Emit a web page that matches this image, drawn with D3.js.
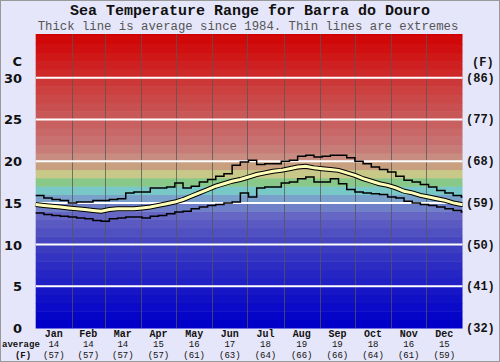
<!DOCTYPE html>
<html>
<head>
<meta charset="utf-8">
<script src="https://cdn.jsdelivr.net/npm/d3@7"></script>
<style>
  html, body { margin: 0; padding: 0; background: #e6e6fa; }
  svg { display: block; }
</style>
</head>
<body>
<div id="chart"></div>
<script>
// month names, days per month, and the monthly summary printed under the axis
const months = ["Jan","Feb","Mar","Apr","May","Jun","Jul","Aug","Sep","Oct","Nov","Dec"];
const monthDays = [31,28,31,30,31,30,31,31,30,31,30,31];
const monthAvgC = ["14","14","14","15","16","17","18","19","19","18","16","15"];
const monthAvgF = ["(57)","(57)","(57)","(57)","(61)","(63)","(64)","(66)","(66)","(64)","(61)","(59)"];

// weekly readings (day 0, 7, 14 ... 364)
const maxTemp = [15.9,15.6,15.4,15.3,15.0,15.1,15.1,15.3,15.3,15.4,15.5,16.2,16.3,16.3,16.8,16.8,16.9,17.4,16.8,17.0,
  17.5,17.8,18.2,18.5,19.5,19.9,20.1,19.6,19.7,19.7,20.0,20.1,20.6,20.7,20.5,20.6,20.7,20.7,20.4,20.0,
  19.7,19.3,19.0,18.7,18.2,17.7,17.5,17.2,16.9,16.5,16.2,15.9,15.7];
const avgTemp = [14.8,14.7,14.6,14.5,14.4,14.3,14.2,14.1,14.0,14.2,14.3,14.3,14.3,14.4,14.5,14.7,14.9,15.1,15.4,15.8,
  16.2,16.6,17.0,17.3,17.6,17.8,18.1,18.4,18.6,18.8,18.9,19.1,19.3,19.4,19.2,19.1,19.0,18.9,18.6,18.3,
  17.9,17.6,17.3,17.1,16.8,16.4,16.2,15.9,15.7,15.5,15.3,15.0,14.8];
const minTemp = [13.8,13.6,13.5,13.4,13.3,13.2,13.1,12.9,12.8,13.1,13.2,13.3,13.3,13.2,13.4,13.5,13.7,13.9,14.0,14.3,
  14.5,14.7,14.8,15.0,15.1,16.2,15.7,16.8,16.9,16.9,17.4,17.5,17.9,18.1,17.5,17.5,17.9,17.3,16.6,16.3,
  16.2,16.1,16.0,15.7,15.6,15.2,15.0,14.8,14.7,14.5,14.3,14.1,13.9];

// axis ticks
const cTicks = [0,5,10,15,20,25,30];
const fTicks = ["(32)","(41)","(50)","(59)","(68)","(77)","(86)"];

// one colour per 1 degree band, from 0 C upward
const bandColors = ["#0000c8","#0505c8","#0a0ac8","#1010c6","#1616c6","#2020c4","#2626c4","#2c2cc2","#3434c2","#3c3cc0",
  "#4646c0","#5050c0","#5a5ac2","#6666c4","#7080c8","#7aa0cc","#78c8c8","#88c888","#c8c888","#c8a080",
  "#c88c80","#c87c78","#c87070","#c86868","#c86060","#c85858","#c85050","#ca4848","#cc4040","#cc3838",
  "#ce2828","#ce2020","#d01818","#d01010","#d00808","#d00000"];

const W = 500, H = 362;
const pLeft = 35.7, pRight = 462.5, pTop = 34, pBottom = 328;

const svg = d3.select("#chart").append("svg")
  .attr("width", W).attr("height", H);

svg.append("rect").attr("x", 0.5).attr("y", 0.5).attr("width", W - 1).attr("height", H - 1)
  .attr("fill", "#e6e6fa").attr("stroke", "#999");

const x = d3.scaleLinear().domain([0, 365]).range([pLeft, pRight]);
const y = d3.scaleLinear().domain([0, 35.25]).range([pBottom, pTop]);

// colour bands
svg.append("g").selectAll("rect")
  .data(bandColors)
  .join("rect")
  .attr("x", pLeft)
  .attr("width", pRight - pLeft)
  .attr("y", (d, i) => Math.max(pTop, y(i + 1)))
  .attr("height", (d, i) => y(i) - Math.max(pTop, y(i + 1)) + 0.5)
  .attr("fill", d => d);

// month boundaries
let cum = [0];
monthDays.forEach(d => cum.push(cum[cum.length - 1] + d));
svg.append("g").selectAll("line")
  .data(cum.slice(1, 12))
  .join("line")
  .attr("x1", d => Math.round(x(d)) + 0.5).attr("x2", d => Math.round(x(d)) + 0.5)
  .attr("y1", pTop).attr("y2", pBottom)
  .attr("stroke", "#555").attr("stroke-opacity", 0.75).attr("stroke-width", 1);

// white gridlines every 5 degrees
svg.append("g").selectAll("line")
  .data(cTicks.slice(1))
  .join("line")
  .attr("x1", pLeft).attr("x2", pRight)
  .attr("y1", d => y(d)).attr("y2", d => y(d))
  .attr("stroke", "#fff").attr("stroke-width", 2);

const day = i => Math.min(365, i * 7);

const stepLine = d3.line()
  .x((d, i) => x(day(i)))
  .y(d => y(d))
  .curve(d3.curveStepAfter);

const smoothLine = d3.line()
  .x((d, i) => x(day(i)))
  .y(d => y(d));

[maxTemp, minTemp].forEach(s => {
  svg.append("path").datum(s.concat([s[s.length - 1]]))
    .attr("fill", "none").attr("stroke", "#000").attr("stroke-width", 1.5)
    .attr("d", stepLine);
});

svg.append("path").datum(avgTemp.concat([avgTemp[avgTemp.length - 1]]))
  .attr("fill", "none").attr("stroke", "#000").attr("stroke-width", 5)
  .attr("d", smoothLine);
svg.append("path").datum(avgTemp.concat([avgTemp[avgTemp.length - 1]]))
  .attr("fill", "none").attr("stroke", "#ffffb8").attr("stroke-width", 3)
  .attr("d", smoothLine);

// title
svg.append("text").attr("x", 250).attr("y", 15)
  .attr("text-anchor", "middle")
  .style("font", "bold 15px 'Liberation Mono', monospace").attr("fill", "#111")
  .text("Sea Temperature Range for Barra do Douro");
svg.append("text").attr("x", 248).attr("y", 29.8)
  .attr("text-anchor", "middle")
  .style("font", "12.3px 'Liberation Mono', monospace").attr("fill", "#555")
  .text("Thick line is average since 1984. Thin lines are extremes");

// left celsius axis
const cFont = "bold 13px 'DejaVu Sans', sans-serif";
svg.append("g").selectAll("text")
  .data(cTicks)
  .join("text")
  .attr("x", 22).attr("y", d => y(d) + 5)
  .attr("text-anchor", "end")
  .style("font", cFont).attr("fill", "#111")
  .text(d => d);
svg.append("text").attr("x", 22).attr("y", 66).attr("text-anchor", "end")
  .style("font", cFont).attr("fill", "#111").text("C");

// right fahrenheit axis
const fFont = "bold 12px 'Liberation Mono', monospace";
svg.append("g").selectAll("text")
  .data(fTicks)
  .join("text")
  .attr("x", 466).attr("y", (d, i) => y(cTicks[i]) + 4)
  .style("font", fFont).attr("fill", "#111")
  .text(d => d);
svg.append("text").attr("x", 472).attr("y", 66)
  .style("font", fFont).attr("fill", "#111").text("(F)");

// month labels with monthly averages
const mid = months.map((m, i) => (cum[i] + cum[i + 1]) / 2);
const bottomG = svg.append("g");
bottomG.selectAll("text.m").data(months).join("text").attr("class", "m")
  .attr("x", (d, i) => x(mid[i])).attr("y", 336.5)
  .attr("text-anchor", "middle")
  .style("font", "bold 10px 'Liberation Mono', monospace").attr("fill", "#111")
  .text(d => d);
bottomG.selectAll("text.c").data(monthAvgC).join("text").attr("class", "c")
  .attr("x", (d, i) => x(mid[i])).attr("y", 347.3)
  .attr("text-anchor", "middle")
  .style("font", "9px 'Liberation Mono', monospace").attr("fill", "#111")
  .text(d => d);
bottomG.selectAll("text.f").data(monthAvgF).join("text").attr("class", "f")
  .attr("x", (d, i) => x(mid[i])).attr("y", 357.6)
  .attr("text-anchor", "middle")
  .style("font", "9px 'Liberation Mono', monospace").attr("fill", "#111")
  .text(d => d);
svg.append("text").attr("x", 2).attr("y", 347.3)
  .style("font", "bold 9px 'Liberation Mono', monospace").attr("fill", "#111").text("average");
svg.append("text").attr("x", 23).attr("y", 357.6).attr("text-anchor", "middle")
  .style("font", "bold 9px 'Liberation Mono', monospace").attr("fill", "#111").text("(F)");
</script>
</body>
</html>
